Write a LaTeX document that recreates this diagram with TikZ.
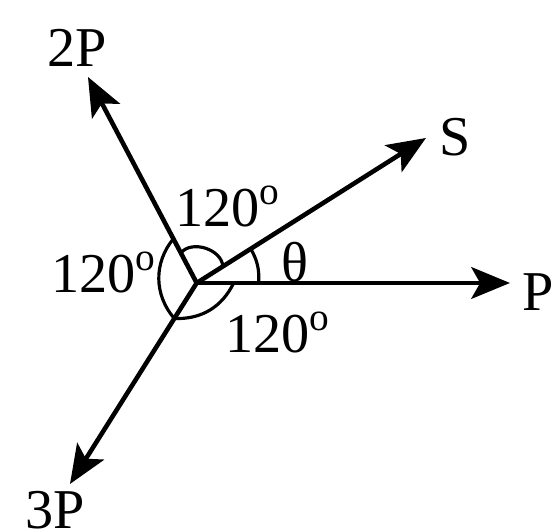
\documentclass[tikz,border=0pt]{standalone}
\usepackage{fontspec}
\setmainfont{Liberation Serif}
\usetikzlibrary{arrows.meta, calc}

\begin{document}
\begin{tikzpicture}[
    x=1cm, y=1cm,
    vec/.style={-{Stealth[length=11pt, width=9pt, inset=2.5pt]}, line width=1.3pt},
    anglearc/.style={line width=0.9pt},
    lbl/.style={font=\fontsize{16}{18}\selectfont, inner sep=0pt}
  ]
    \useasboundingbox (0,0) rectangle (5.53,5.32);

    %% ORIGIN AND VECTOR TIPS
    \coordinate (O) at (1.967,2.49);
    \coordinate (tP) at (5.10,2.49);
    \coordinate (t2P) at (0.88,4.55);
    \coordinate (t3P) at (0.70,0.48);
    \coordinate (tS) at (4.26,3.94);

    %% VECTOR LABELS
    \node[lbl] (P) at (5.38,2.40) {P};
    \node[lbl] (twoP) at (0.77,4.84) {2P};
    \node[lbl] (threeP) at (0.55,0.22) {3P};
    \node[lbl] (S) at (4.55,3.95) {S};

    %% VECTORS
    \draw[vec] (O) -- (tP);
    \draw[vec] (O) -- (t2P);
    \draw[vec] (O) -- (t3P);
    \draw[vec] (O) -- (tS);

    %% ANGLE MARKS
    \draw[anglearc] ($(O)!0.34cm!(t2P)$) to[bend left=68] ($(O)!0.31cm!(tS)$);
    \draw[anglearc] ($(O)!0.62cm!(tP)$) to[bend right=16] ($(O)!0.64cm!(tS)$);
    \draw[anglearc] ($(O)!0.5cm!(t2P)$) to[bend right=40] ($(O)!0.42cm!(t3P)$);
    \draw[anglearc] ($(O)!0.42cm!(t3P)$) to[bend right=33] ($(O)!0.37cm!(tP)$);

    %% ANGLE LABELS
    \node[lbl] (angtop) at (2.28,3.25) {120\textsuperscript{o}};
    \node[lbl] (angleft) at (1.04,2.59) {120\textsuperscript{o}};
    \node[lbl] (angbot) at (2.78,1.99) {120\textsuperscript{o}};
    \node[lbl] (theta) at (2.95,2.70) {θ};
  \end{tikzpicture}
\end{document}
